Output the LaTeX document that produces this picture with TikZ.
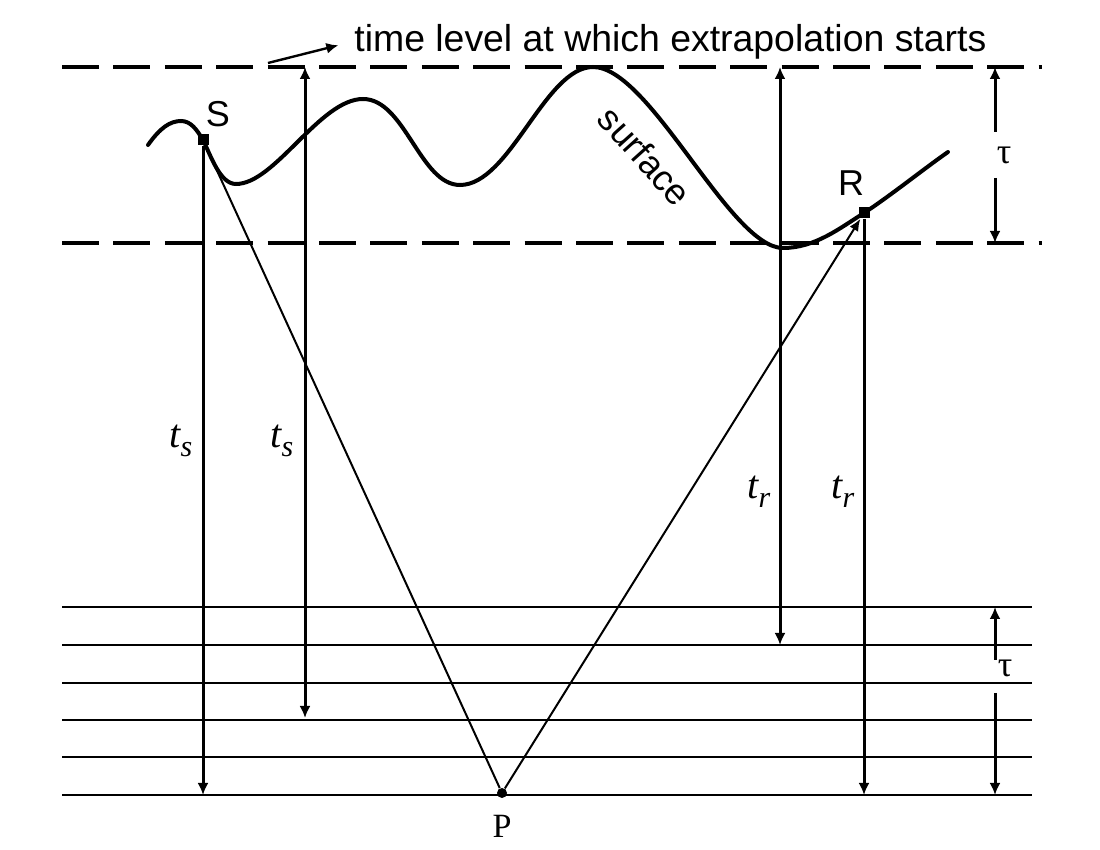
\documentclass[tikz,border=0pt]{standalone}
\usepackage{fontspec}
\newfontfamily\arialfont{Liberation Sans}
\newfontfamily\timesfont{Liberation Serif}
\usetikzlibrary{arrows.meta}

\begin{document}
\begin{tikzpicture}[x = 0.5pt, y = -0.5pt,
		level/.style = {line width = 2pt, dash pattern = on 18.5pt off 7.2pt},
		layer/.style = {line width = 1.2pt},
		timearrow/.style = {line width = 1.5pt, -{Latex[length = 6pt, width = 5.5pt]}},
		twoway/.style = {line width = 1.5pt, {Latex[length = 6pt, width = 5.5pt]}-{Latex[length = 6pt, width = 5.5pt]}},
		ray/.style = {line width = 1pt},
		station/.style = {rectangle, fill = black, inner sep = 0pt, minimum size = 5.5pt},
		sanslabel/.style = {font = \arialfont\fontsize{18}{21}\selectfont},
		timelabel/.style = {font = \timesfont\itshape\fontsize{20}{24}\selectfont},
		taulabel/.style = {font = \timesfont\fontsize{18}{21}\selectfont}]

	\useasboundingbox (0,0) rectangle (1100,850);

	% datum levels and layers
	\draw[level] (62,67) -- (1042,67);
	\draw[level] (62,243) -- (1042,243);
	\foreach \y in {607,645,683,720,757,795}
		\draw[layer] (62,\y) -- (1032,\y);

	% surface
	\draw[line width = 2pt, line cap = round]
		(148,145) .. controls (160,128) and (170,121) .. (181,121)
		.. controls (191,121) and (197,130) .. (203,140)
		.. controls (211,156) and (220,184) .. (236,184)
		.. controls (275,184) and (320,99) .. (363,99)
		.. controls (405,99) and (420,185) .. (460,185)
		.. controls (510,185) and (545,67) .. (593,67)
		.. controls (650,67) and (730,248) .. (783,248)
		.. controls (815,248) and (840,228) .. (864,213)
		.. controls (890,196) and (925,168) .. (948,152);
	\node[font = \arialfont\fontsize{18}{21}\selectfont, rotate = -48] at (645,156) (surface) {surface};

	% stations and image point
	\node[station] at (203,140) (S) {};
	\node[station] at (864,213) (R) {};
	\node[circle, fill = black, inner sep = 0pt, minimum size = 5pt] at (502,793) (P) {};

	\node[sanslabel] at (218,114) (S_label) {S};
	\node[sanslabel] at (851,183) (R_label) {R};
	\node[font = \timesfont\fontsize{17}{20}\selectfont] at (502,826) (P_label) {P};

	\node[anchor = base west, inner sep = 2pt, font = \arialfont\fontsize{18.7}{22}\selectfont] at (350,52) (extrap_label) {time level at which extrapolation starts};
	\coordinate (extrap_tail) at (268,63);

	% ends of the time arrows
	\coordinate (s_bottom) at (203,795);
	\coordinate (ts_top) at (305,67);
	\coordinate (ts_bottom) at (305,718);
	\coordinate (tr_top) at (780,67);
	\coordinate (tr_bottom) at (780,645);
	\coordinate (r_bottom) at (864,795);

	\coordinate (tau_top_a) at (995,132);
	\coordinate (tau_top_b) at (995,178);
	\coordinate (tau_low_a) at (995,660);
	\coordinate (tau_low_b) at (995,693);
	\coordinate (tau_top_end) at (995,67);
	\coordinate (tau_bot_end) at (995,243);
	\coordinate (tau_low_top) at (995,607);
	\coordinate (tau_low_end) at (995,795);

	\node[timelabel] at (181,441) {t\raisebox{-0.5ex}{\fontsize{15}{18}\selectfont s}};
	\node[timelabel] at (282,441) {t\raisebox{-0.5ex}{\fontsize{15}{18}\selectfont s}};
	\node[timelabel] at (759,492) {t\raisebox{-0.5ex}{\fontsize{15}{18}\selectfont r}};
	\node[timelabel] at (843,492) {t\raisebox{-0.5ex}{\fontsize{15}{18}\selectfont r}};
	\node[taulabel] at (1004,155) {τ};
	\node[taulabel] at (1005,668) {τ};

	\draw (extrap_tail) edge [timearrow, line width = 1.2pt, shorten > = 6pt] (extrap_label.west);

	\draw (S) edge [timearrow] (s_bottom);
	\draw (ts_bottom) edge [twoway] (ts_top);
	\draw (tr_bottom) edge [twoway] (tr_top);
	\draw (R) edge [timearrow] (r_bottom);

	\draw (S) edge [ray] (P);
	\draw (P) edge [ray, -{Latex[length = 6pt, width = 5pt]}] (R);

	\draw (tau_top_a) edge [timearrow] (tau_top_end);
	\draw (tau_top_b) edge [timearrow] (tau_bot_end);
	\draw (tau_low_a) edge [timearrow] (tau_low_top);
	\draw (tau_low_b) edge [timearrow] (tau_low_end);
\end{tikzpicture}
\end{document}
